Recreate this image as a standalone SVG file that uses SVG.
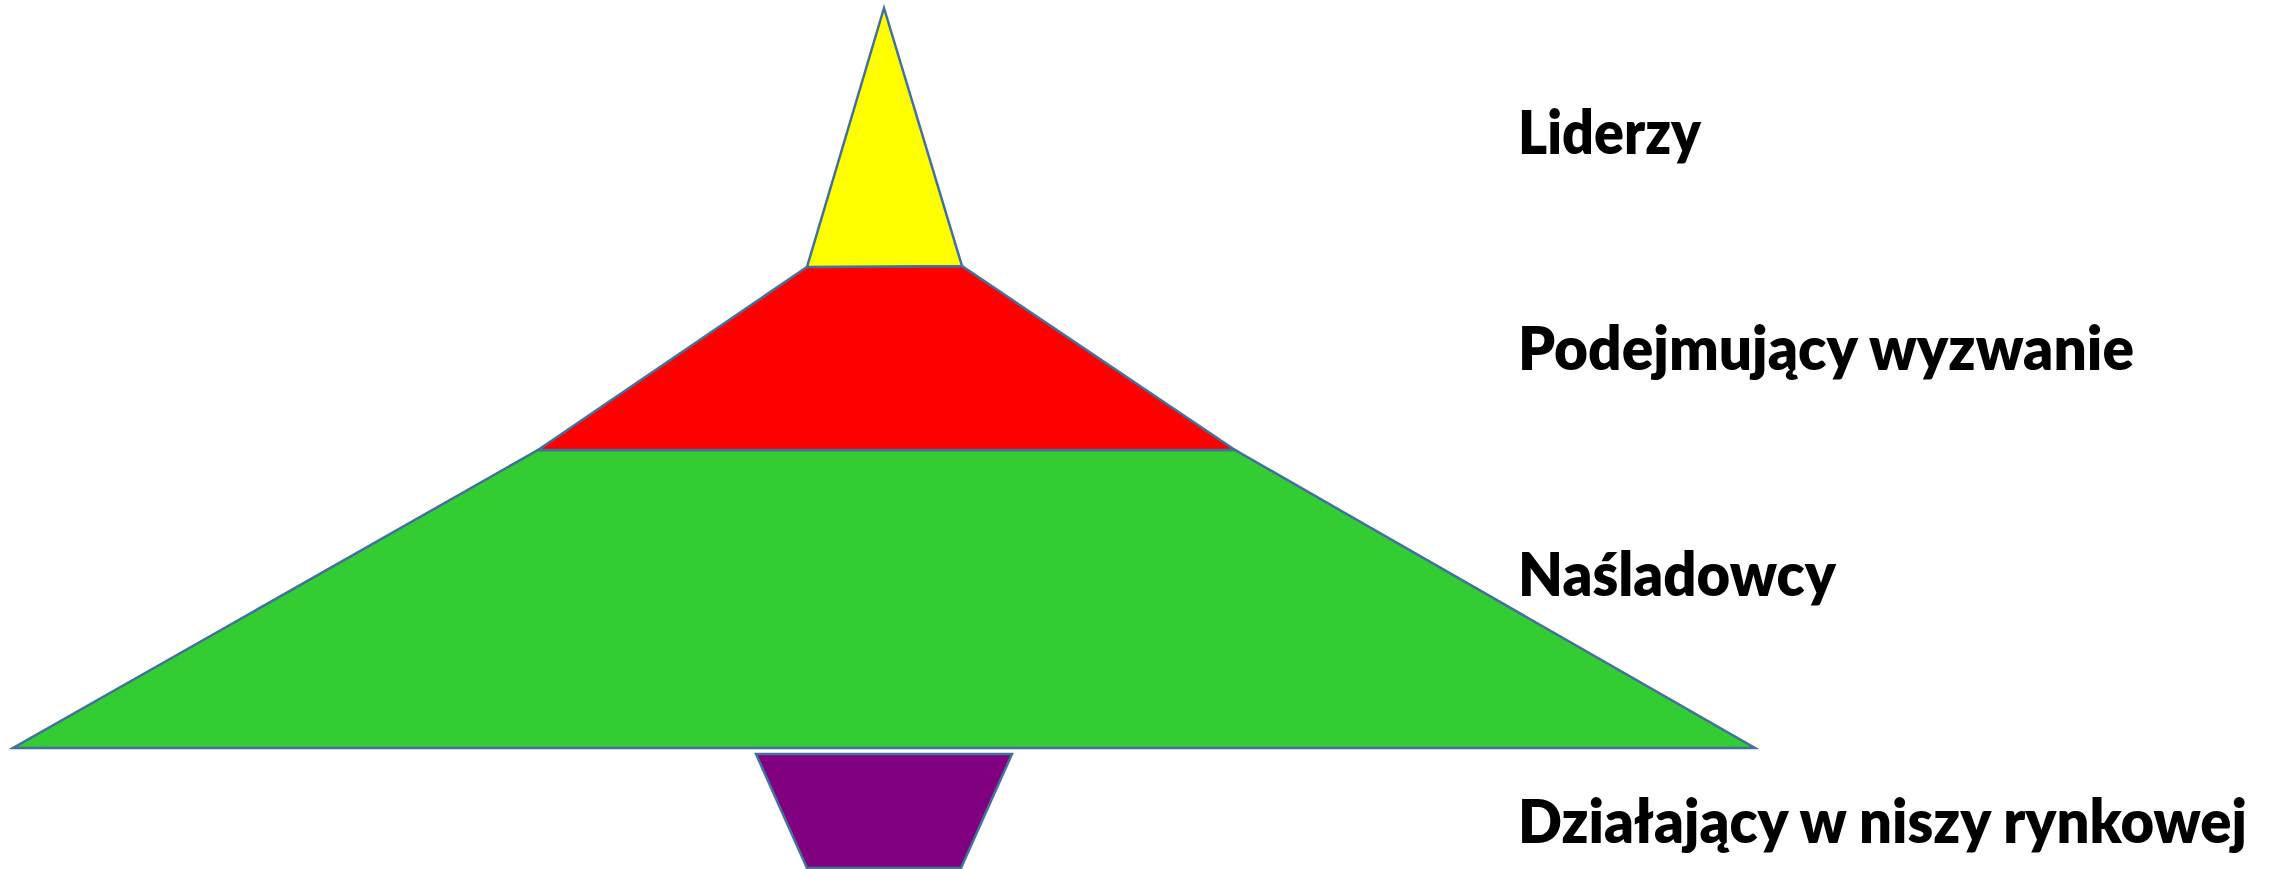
<svg xmlns="http://www.w3.org/2000/svg" width="2276" height="869" viewBox="0 0 2276 869">
<style>
.s{stroke:#41719C;stroke-width:2.5;stroke-linejoin:miter}
.t{font-family:Lato,"Open Sans","Liberation Sans",sans-serif;font-weight:800;font-size:61px;fill:#000}
</style>
<rect width="2276" height="869" fill="#fff"/>
<g id="nasladowcy">
<polygon class="s" fill="#33CC33" points="538,450 1235,450 1755,748 13,748"/>
</g>
<g id="podejmujacy">
<polygon class="s" fill="#FF0000" points="807,267 962,266 1235,450 538,450"/>
</g>
<g id="liderzy">
<polygon class="s" fill="#FFFF00" points="884,8 962,266 807,267"/>
</g>
<g id="nisza">
<polygon class="s" fill="#800080" points="756,754 1012,754 961,868 807,868"/>
</g>
<g id="labels">
<text class="t" x="1518" y="154" textLength="183" lengthAdjust="spacingAndGlyphs">Liderzy</text>
<text class="t" x="1518" y="370" textLength="616" lengthAdjust="spacingAndGlyphs">Podejmujący wyzwanie</text>
<text class="t" x="1518" y="596" textLength="318" lengthAdjust="spacingAndGlyphs">Naśladowcy</text>
<text class="t" x="1518" y="843" textLength="729" lengthAdjust="spacingAndGlyphs">Działający w niszy rynkowej</text>
</g>
</svg>
